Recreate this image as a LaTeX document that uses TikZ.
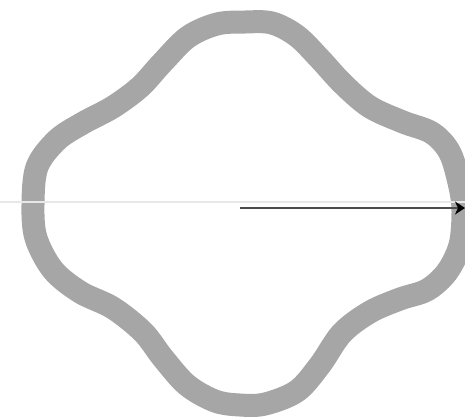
\documentclass[tikz,border=0pt]{standalone}
\usepackage{tikz}
\usetikzlibrary{arrows.meta}
\pgfdeclarelayer{edgelayer}
\pgfdeclarelayer{nodelayer}
\pgfsetlayers{edgelayer,nodelayer,main}
\tikzstyle{wall}=[draw={rgb,255:red,166;green,166;blue,166},line width=23bp,line join=round]
\tikzstyle{hline}=[draw={rgb,255:red,232;green,232;blue,232},line width=2bp]
\tikzstyle{radius arrow}=[draw=black!70,line width=2.2bp,-{Stealth[length=10bp,width=13bp,inset=3bp,color=black]}]

\begin{document}
\begin{tikzpicture}[x=1bp,y=-1bp]
	\useasboundingbox (0,0) rectangle (465,418);
	\begin{pgfonlayer}{edgelayer}
		\draw[wall] plot[smooth cycle, tension=0.55] coordinates {
			(245,22) (272,23) (297,36) (320,59) (343,84) (370,107) (403,122)
			(432,133) (450,153) (460,187) (463,212) (460,245) (447,272)
			(427,290) (400,299) (370,312) (342,333) (320,365) (297,391)
			(265,404) (240,405) (215,401) (187,385) (163,358) (143,332)
			(113,308) (80,292) (53,270) (36,238) (33,205) (37,167) (57,140)
			(83,123) (113,107) (140,87) (162,63) (188,37) (217,24)};
	\end{pgfonlayer}
	\begin{pgfonlayer}{nodelayer}
		\coordinate (west) at (0,202);
		\coordinate (east) at (465,202);
		\coordinate (o) at (240,208);
		\coordinate (rim) at (465,208);
	\end{pgfonlayer}
	\draw[hline] (west) -- (east);
	\draw[radius arrow] (o) -- (rim);
\end{tikzpicture}
\end{document}
